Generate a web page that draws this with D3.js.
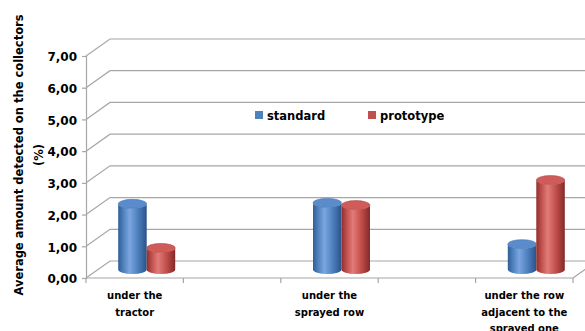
<!DOCTYPE html>
<html>
<head>
    <title>Collectors chart</title>
    <script src="https://d3js.org/d3.v7.min.js"></script>
    <style>
        body { margin: 0; background: #fff; }
        svg { display: block; }
        text { font-family: "DejaVu Sans", Arial, sans-serif; font-weight: bold; fill: #000; }
    </style>
</head>
<body>
    <div id="chart"></div>
    <script>
        // categories (blank ones are the empty slots between labels)
        const categories = [
            ['under the', 'tractor'],
            [],
            ['under the', 'sprayed row'],
            [],
            ['under the row', 'adjacent to the', 'sprayed one']
        ];
        const series = ['standard', 'prototype'];
        const standard = [2.07, null, 2.10, null, 0.80];
        const prototype = [0.68, null, 2.03, null, 2.82];
        const yTicks = [0, 1, 2, 3, 4, 5, 6, 7];
        const colors = { standard: '#4f81bd', prototype: '#c0504d' };

        const width = 585, height = 331;
        const dx = 24, dy = -17;   // depth offset of the back wall

        const svg = d3.select('#chart').append('svg')
            .attr('width', width)
            .attr('height', height);

        const x = d3.scaleBand()
            .domain(d3.range(categories.length))
            .range([86, 573]);
        const y = d3.scaleLinear().domain([0, 7]).range([278, 56]);
        const xs = d3.scaleBand().domain(series).range([0, 57]);

        const fmt = d3.formatLocale({ decimal: ',', thousands: '.', grouping: [3], currency: ['', ''] }).format('.2f');

        // gradients for the cylinders
        const defs = svg.append('defs');
        const shades = {
            standard: ['#2f5d96', '#4f81bd', '#7aa6e0', '#4a7cbb', '#2a5288'],
            prototype: ['#8f2f2c', '#c0504d', '#e27b77', '#bd4a47', '#822a28']
        };
        series.forEach(s => {
            const g = defs.append('linearGradient').attr('id', 'g-' + s)
                .attr('x1', 0).attr('x2', 1).attr('y1', 0).attr('y2', 0);
            const st = shades[s];
            [0, 0.18, 0.4, 0.72, 1].forEach((o, i) => {
                g.append('stop').attr('offset', o).attr('stop-color', st[i]);
            });
        });

        // gridlines on back wall + left wall diagonals
        const grid = svg.append('g').attr('stroke', '#a6a6a6').attr('stroke-width', 1.2).attr('fill', 'none');
        grid.selectAll('path')
            .data(yTicks)
            .join('path')
            .attr('d', d => `M${x.range()[0]},${y(d)}L${x.range()[0] + dx},${y(d) + dy}L${width + 5},${y(d) + dy}`);

        // floor front-right edge
        grid.append('path')
            .attr('d', `M${x.range()[1]},${y(0)}L${x.range()[1] + dx},${y(0) + dy}`);

        // y axis
        const yAxis = svg.append('g')
            .attr('transform', `translate(${x.range()[0]},0)`)
            .call(d3.axisLeft(y).tickValues(yTicks).tickFormat(fmt).tickSize(4).tickPadding(5));
        yAxis.select('.domain').attr('stroke', '#a6a6a6').attr('stroke-width', 1.2);
        yAxis.selectAll('.tick line').attr('stroke', '#a6a6a6').attr('stroke-width', 1.2);
        yAxis.selectAll('.tick text')
            .style('font-size', '12px')
            .style('font-family', '"DejaVu Sans", Arial, sans-serif')
            .style('font-weight', 'bold')
            .attr('dy', '0.4em')
            .attr('fill', '#000');

        // x axis line and ticks
        const xAxis = svg.append('g').attr('stroke', '#a6a6a6').attr('stroke-width', 1.2);
        xAxis.append('line')
            .attr('x1', x.range()[0]).attr('x2', x.range()[1])
            .attr('y1', y(0)).attr('y2', y(0));
        xAxis.selectAll('.xt')
            .data(d3.range(categories.length + 1))
            .join('line')
            .attr('class', 'xt')
            .attr('x1', i => x.range()[0] + i * x.bandwidth())
            .attr('x2', i => x.range()[0] + i * x.bandwidth())
            .attr('y1', y(0)).attr('y2', y(0) + 5);

        // category labels
        const labels = svg.append('g');
        categories.forEach((lines, i) => {
            const t = labels.append('text')
                .attr('text-anchor', 'middle')
                .attr('x', x(i) + x.bandwidth() / 2)
                .attr('y', 299)
                .style('font-size', '10px');
            lines.forEach((ln, j) => {
                t.append('tspan')
                    .attr('x', x(i) + x.bandwidth() / 2)
                    .attr('dy', j === 0 ? 0 : 16.5)
                    .text(ln);
            });
        });

        // cylinders
        const bars = [];
        categories.forEach((c, i) => {
            const vals = { standard: standard[i], prototype: prototype[i] };
            series.forEach(s => {
                if (vals[s] != null) bars.push({ i, s, v: vals[s] });
            });
        });

        const ry = 4.5;
        const cyl = svg.append('g')
            .selectAll('g')
            .data(bars)
            .join('g');

        function geo(d) {
            const w = xs.bandwidth();
            const left = x(d.i) + x.bandwidth() / 2 - xs.range()[1] / 2 + xs(d.s) + dx / 2;
            const base = y(0) + dy / 2;
            const top = base - (y(0) - y(d.v));
            return { left, right: left + w, rx: w / 2, base, top };
        }

        cyl.append('path')
            .attr('fill', d => `url(#g-${d.s})`)
            .attr('d', d => {
                const g = geo(d);
                return `M${g.left},${g.top}L${g.left},${g.base}` +
                    `A${g.rx},${ry} 0 0 0 ${g.right},${g.base}` +
                    `L${g.right},${g.top}` +
                    `A${g.rx},${ry} 0 0 1 ${g.left},${g.top}Z`;
            });

        cyl.append('ellipse')
            .attr('cx', d => geo(d).left + geo(d).rx)
            .attr('cy', d => geo(d).top)
            .attr('rx', d => geo(d).rx)
            .attr('ry', ry)
            .attr('fill', d => d.s === 'standard' ? '#5a8ccb' : '#cf5c58')
            .attr('stroke', d => d.s === 'standard' ? '#4677b4' : '#b34744')
            .attr('stroke-width', 0.6);

        // legend
        const legend = svg.append('g');
        const legendX = { standard: 255, prototype: 368 };
        series.forEach(s => {
            legend.append('rect')
                .attr('x', legendX[s]).attr('y', 111)
                .attr('width', 8).attr('height', 8)
                .attr('fill', colors[s]);
            legend.append('text')
                .attr('x', legendX[s] + 12)
                .attr('y', 119.5)
                .style('font-size', '11.5px')
                .text(s);
        });

        // y axis title
        const title = svg.append('text')
            .attr('transform', 'translate(19,155) rotate(-90)')
            .attr('text-anchor', 'middle')
            .style('font-size', '11.5px');
        title.append('tspan').attr('x', 0).attr('dy', '0.35em').text('Average amount detected on the collectors');
        title.append('tspan').attr('x', 0).attr('dy', 20).text('(%)');
    </script>
</body>
</html>
